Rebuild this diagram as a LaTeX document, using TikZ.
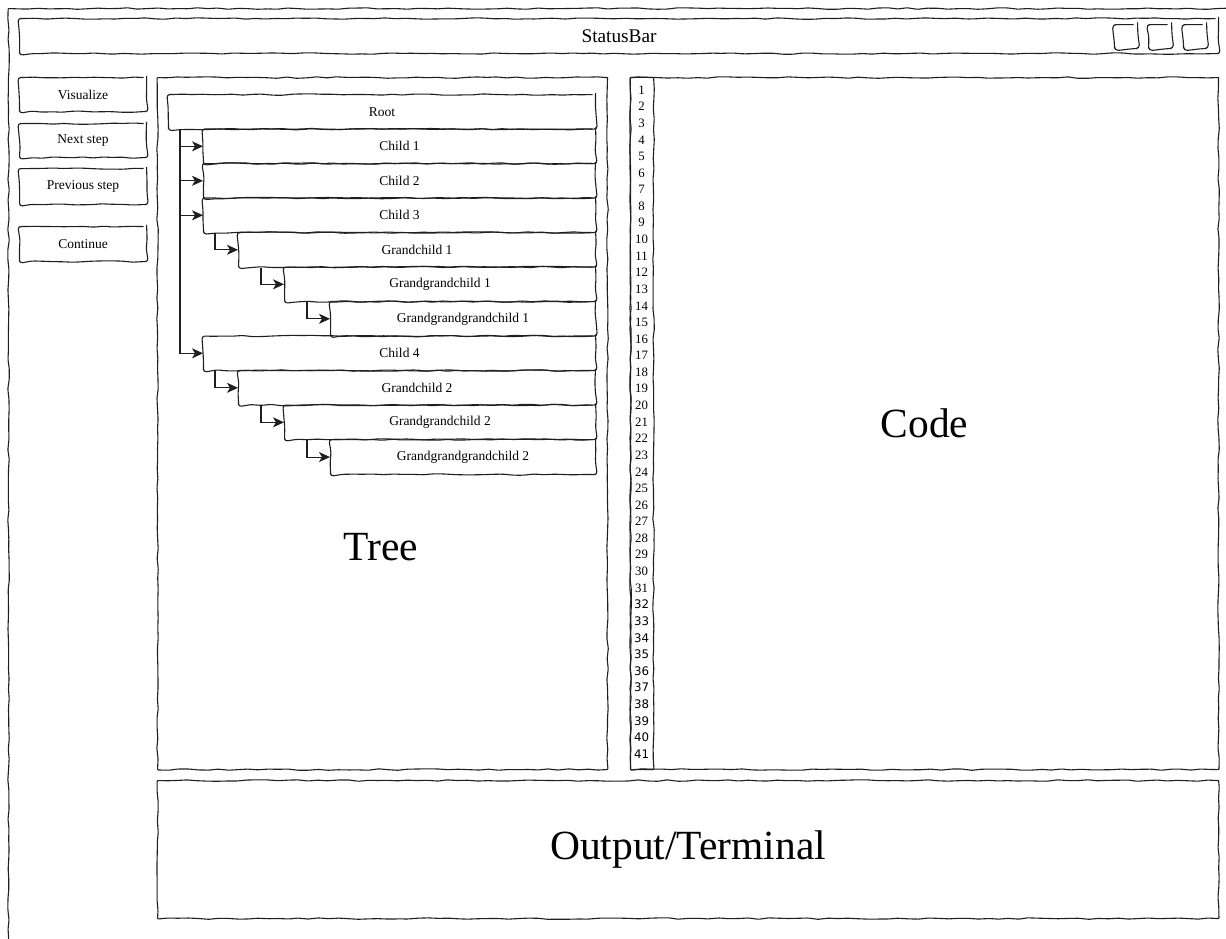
\documentclass[tikz,border=0pt]{standalone}
\usepackage{fontspec}
\setmainfont{Liberation Serif}
\newfontfamily\lnsans{DejaVu Sans}
\usetikzlibrary{decorations.pathmorphing,arrows.meta}
\begin{document}
\begin{tikzpicture}[x=1pt,y=-1pt,
  sk/.style={draw=black!88, line width=1.1pt, decorate,
    decoration={random steps,segment length=10pt,amplitude=0.75pt}},
  wh/.style 2 args={minimum width=#1, minimum height=#2},
  box/.style={sk, rounded corners=3pt, inner sep=0pt, anchor=north west,
    font=\fontsize{13.5}{15}\selectfont, align=center},
  panel/.style={sk, rounded corners=0.8pt, inner sep=0pt, anchor=north west},
  big/.style={font=\fontsize{41.5}{45}\selectfont, inner sep=0pt},
  lnum/.style={font=\fontsize{12.8}{13}\selectfont, inner sep=0pt},
  arr/.style={line width=1.1pt, draw=black!88,
    -{Stealth[length=11pt,width=10pt,inset=3pt]}}
]
\pgfmathsetseed{7}
\useasboundingbox (0,0) rectangle (1226,938);
\fill[white] (0,0) rectangle (1226,938);

% outer window frame (cut by the page edges)
\node[panel, wh={1240}{950}] (frame) at (8,8) {};

% status bar
\node[box, wh={1199}{35}, font=\fontsize{19.3}{21}\selectfont] (status) at (19,18) {StatusBar};
\node[box, rounded corners=4pt, wh={23}{24}] (win1) at (1114,24) {};
\node[box, rounded corners=4pt, wh={23}{24}] (win2) at (1148,24) {};
\node[box, rounded corners=4pt, wh={23}{24}] (win3) at (1183,24) {};

% buttons
\node[box, wh={127}{34}] (visualize) at (19,77) {Visualize};
\node[box, wh={127}{34}] (next) at (19,123) {Next step};
\node[box, wh={127}{36}] (prev) at (19,168) {Previous step};
\node[box, wh={127}{35}] (cont) at (19,226) {Continue};

% tree panel
\node[panel, wh={450}{692}] (treepanel) at (157,77) {};
\node[big] (treelbl) at (381,547) {Tree};

\node[box, wh={427}{34.5}] (root) at (168,94) {Root};
\node[box, wh={392}{34.5}] (c1) at (203,128.5) {Child 1};
\node[box, wh={392}{34.5}] (c2) at (203,163) {Child 2};
\node[box, wh={392}{34.5}] (c3) at (203,197.5) {Child 3};
\node[box, wh={357}{34.5}] (gc1) at (238,232) {Grandchild 1};
\node[box, wh={311}{34.5}] (ggc1) at (284,266.5) {Grandgrandchild 1};
\node[box, wh={265}{34.5}] (gggc1) at (330,301) {Grandgrandgrandchild 1};
\node[box, wh={392}{34.5}] (c4) at (203,335.5) {Child 4};
\node[box, wh={357}{34.5}] (gc2) at (238,370) {Grandchild 2};
\node[box, wh={311}{34.5}] (ggc2) at (284,404.5) {Grandgrandchild 2};
\node[box, wh={265}{35}] (gggc2) at (330,439) {Grandgrandgrandchild 2};

\draw[arr] ([xshift=12pt]root.south west) |- (c1.west);
\draw[arr] ([xshift=12pt]root.south west) |- (c2.west);
\draw[arr] ([xshift=12pt]root.south west) |- (c3.west);
\draw[arr] ([xshift=12pt]root.south west) |- (c4.west);
\draw[arr] ([xshift=12pt]c3.south west) |- (gc1.west);
\draw[arr] ([xshift=23pt]gc1.south west) |- (ggc1.west);
\draw[arr] ([xshift=23pt]ggc1.south west) |- (gggc1.west);
\draw[arr] ([xshift=12pt]c4.south west) |- (gc2.west);
\draw[arr] ([xshift=23pt]gc2.south west) |- (ggc2.west);
\draw[arr] ([xshift=23pt]ggc2.south west) |- (gggc2.west);

% code panel
\node[panel, wh={588}{692}] (code) at (630,77) {};
\node[panel, wh={23}{692}] (lines) at (630,77) {};
\node[big] (codelbl) at (code.center) {Code};
\foreach \i in {1,...,31} {
  \node[lnum] (ln\i) at (641.5,{90+(\i-1)*16.6}) {\i};
}
\foreach \i in {32,...,41} {
  \node[lnum, font=\lnsans\fontsize{11.8}{13}\selectfont] (ln\i) at (641.5,{90+(\i-1)*16.6}) {\i};
}

% output panel
\node[panel, wh={1061}{138}] (output) at (157,780) {};
\node[big] (outlbl) at (output.center) {Output/Terminal};
\end{tikzpicture}
\end{document}
